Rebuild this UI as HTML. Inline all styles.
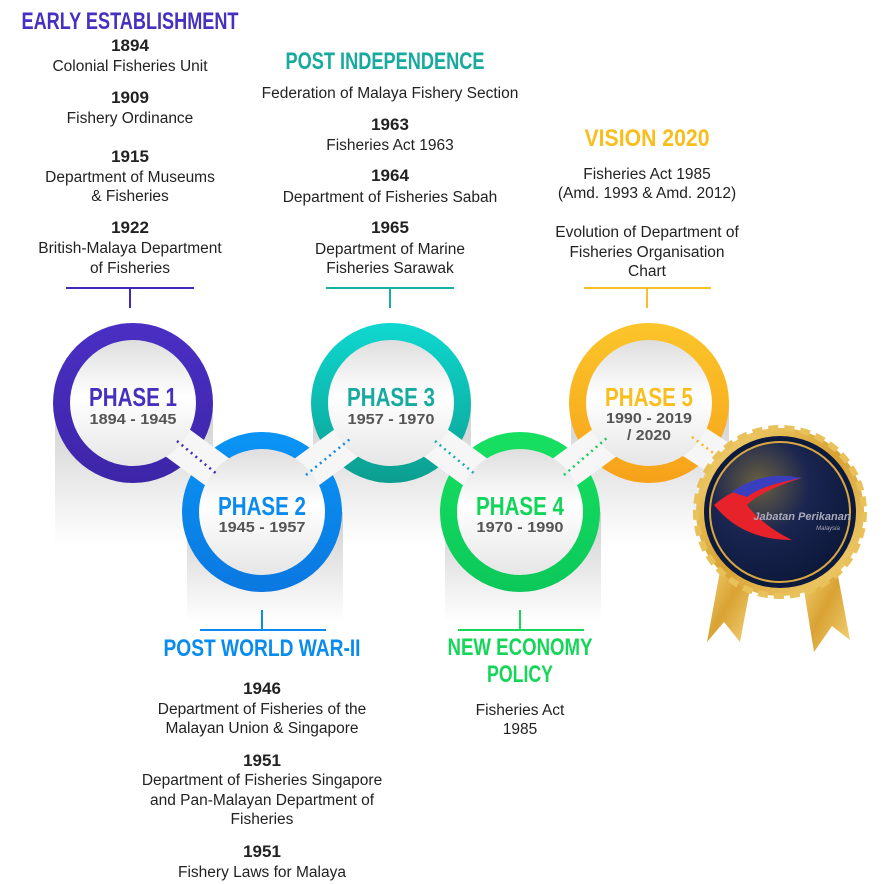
<!DOCTYPE html>
<html><head><meta charset="utf-8"><style>
html,body{margin:0;padding:0;background:#fff;}
svg{display:block;}
.h{font-family:"Liberation Sans Narrow","Liberation Sans",sans-serif;font-weight:bold;text-anchor:middle;font-size:24px;}
.y{font-family:"Liberation Sans Narrow","Liberation Sans",sans-serif;font-weight:bold;text-anchor:middle;font-size:17px;fill:#222;}
.t{font-family:"Liberation Sans",sans-serif;text-anchor:middle;font-size:15.5px;fill:#222;}
.p{font-family:"Liberation Sans Narrow","Liberation Sans",sans-serif;font-weight:bold;text-anchor:middle;font-size:26px;}
.d{font-family:"Liberation Sans Narrow","Liberation Sans",sans-serif;font-weight:bold;text-anchor:middle;font-size:15px;fill:#555;}
</style></head><body>
<svg width="895" height="884" viewBox="0 0 895 884" xmlns="http://www.w3.org/2000/svg">
<defs>
<linearGradient id="sh" x1="0" y1="0" x2="0" y2="1"><stop offset="0" stop-color="#cfcfcf"/><stop offset="1" stop-color="#fff"/></linearGradient>
<linearGradient id="in" x1="0" y1="0" x2="0" y2="1"><stop offset="0" stop-color="#dedede"/><stop offset="0.45" stop-color="#fff"/><stop offset="1" stop-color="#e6e6e6"/></linearGradient>
<linearGradient id="g1" x1="0" y1="0" x2="0" y2="1"><stop offset="0" stop-color="#4a2fc4"/><stop offset="1" stop-color="#3d25a8"/></linearGradient>
<linearGradient id="g2" x1="0" y1="0" x2="0" y2="1"><stop offset="0" stop-color="#0a94f5"/><stop offset="1" stop-color="#0a78e0"/></linearGradient>
<linearGradient id="g3" x1="0" y1="0" x2="0" y2="1"><stop offset="0" stop-color="#0fd8d0"/><stop offset="1" stop-color="#0c9e90"/></linearGradient>
<linearGradient id="g4" x1="0" y1="0" x2="0" y2="1"><stop offset="0" stop-color="#16e060"/><stop offset="1" stop-color="#0cc85a"/></linearGradient>
<linearGradient id="g5" x1="0" y1="0" x2="0" y2="1"><stop offset="0" stop-color="#fbc52a"/><stop offset="1" stop-color="#f7a21a"/></linearGradient>
<linearGradient id="gold" x1="0" y1="0" x2="1" y2="1"><stop offset="0" stop-color="#f5d77a"/><stop offset="0.5" stop-color="#d9a233"/><stop offset="1" stop-color="#f3d47a"/></linearGradient>
<radialGradient id="navy" cx="0.35" cy="0.3" r="0.8"><stop offset="0" stop-color="#6b6040"/><stop offset="0.45" stop-color="#1a2550"/><stop offset="1" stop-color="#0a1638"/></radialGradient>
</defs>

<rect x="55" y="405" width="158" height="140" fill="url(#sh)"/>
<rect x="313" y="405" width="158" height="140" fill="url(#sh)"/>
<rect x="571" y="405" width="158" height="140" fill="url(#sh)"/>
<rect x="187" y="512" width="156" height="110" fill="url(#sh)"/>
<rect x="445" y="512" width="156" height="110" fill="url(#sh)"/>

<circle cx="133" cy="403" r="80" fill="url(#g1)"/>
<circle cx="262" cy="512" r="80" fill="url(#g2)"/>
<circle cx="391" cy="403" r="80" fill="url(#g3)"/>
<circle cx="520" cy="512" r="80" fill="url(#g4)"/>
<circle cx="649" cy="403" r="80" fill="url(#g5)"/>

<g stroke="#f6f6f6" stroke-width="36" stroke-linecap="butt">
<line x1="160" y1="430" x2="235" y2="485"/>
<line x1="289" y1="485" x2="364" y2="430"/>
<line x1="418" y1="430" x2="493" y2="485"/>
<line x1="547" y1="485" x2="622" y2="430"/>
<line x1="676" y1="430" x2="730" y2="465"/>
</g>

<circle cx="133" cy="403" r="63" fill="url(#in)"/>
<circle cx="262" cy="512" r="63" fill="url(#in)"/>
<circle cx="391" cy="403" r="63" fill="url(#in)"/>
<circle cx="520" cy="512" r="63" fill="url(#in)"/>
<circle cx="649" cy="403" r="63" fill="url(#in)"/>

<g stroke-width="2.5" stroke-dasharray="2 4">
<line x1="177" y1="441" x2="218" y2="475" stroke="#3d2ab8"/>
<line x1="306" y1="475" x2="350" y2="439" stroke="#0a8bef"/>
<line x1="435" y1="441" x2="476" y2="475" stroke="#14b0a4"/>
<line x1="564" y1="475" x2="608" y2="437" stroke="#16cc5a"/>
<line x1="692" y1="437" x2="720" y2="458" stroke="#f5b51f"/>
</g>

<text class="p" x="133" y="406" fill="#4530c0" textLength="88" lengthAdjust="spacingAndGlyphs">PHASE 1</text>
<text class="d" x="133" y="424" textLength="87" lengthAdjust="spacingAndGlyphs">1894 - 1945</text>
<text class="p" x="262" y="515" fill="#0a8bef" textLength="88" lengthAdjust="spacingAndGlyphs">PHASE 2</text>
<text class="d" x="262" y="532" textLength="87" lengthAdjust="spacingAndGlyphs">1945 - 1957</text>
<text class="p" x="391" y="406" fill="#17aa9e" textLength="88" lengthAdjust="spacingAndGlyphs">PHASE 3</text>
<text class="d" x="391" y="424" textLength="87" lengthAdjust="spacingAndGlyphs">1957 - 1970</text>
<text class="p" x="520" y="515" fill="#12d65a" textLength="88" lengthAdjust="spacingAndGlyphs">PHASE 4</text>
<text class="d" x="520" y="532" textLength="87" lengthAdjust="spacingAndGlyphs">1970 - 1990</text>
<text class="p" x="649" y="406" fill="#f7be1e" textLength="88" lengthAdjust="spacingAndGlyphs">PHASE 5</text>
<text class="d" x="649" y="423" textLength="86" lengthAdjust="spacingAndGlyphs">1990 - 2019</text>
<text class="d" x="649" y="440" textLength="44" lengthAdjust="spacingAndGlyphs">/ 2020</text>

<polygon points="722,560 752,578 740,642 724,622 707,642" fill="url(#gold)"/>
<polygon points="802,578 835,560 850,640 832,626 814,652" fill="url(#gold)"/>
<circle cx="780" cy="512" r="84" fill="url(#gold)" stroke="#e9c15a" stroke-width="6" stroke-dasharray="10 6"/>
<circle cx="780" cy="512" r="76" fill="#0c1a3e"/>
<circle cx="780" cy="512" r="70" fill="url(#navy)" stroke="#d9a640" stroke-width="2"/>
<path d="M714,505 Q742,480 802,478 Q762,490 747,505 Q762,525 792,540 Q742,540 714,505Z" fill="#e8222a"/>
<path d="M732,492 Q762,470 802,478 Q762,485 747,497Z" fill="#3a3fc0"/>
<text x="802" y="520" font-family="Liberation Sans Narrow, Liberation Sans, sans-serif" font-style="italic" font-weight="bold" font-size="11" fill="#aab" text-anchor="middle">Jabatan Perikanan</text>
<text x="828" y="530" font-family="Liberation Sans, sans-serif" font-style="italic" font-size="6" fill="#aab" text-anchor="middle">Malaysia</text>

<g stroke-width="2">
<path d="M66,288H194M130,288V308" stroke="#3d2ab8" fill="none"/>
<path d="M326,288H454M390,288V308" stroke="#14b0a4" fill="none"/>
<path d="M584,288H711M647,288V308" stroke="#f5c02a" fill="none"/>
<path d="M200,630H326M262,630V610" stroke="#0a8bef" fill="none"/>
<path d="M458,630H584M520,630V610" stroke="#16d65a" fill="none"/>
</g>

<text class="h" x="130" y="29" fill="#4530c0" textLength="217" lengthAdjust="spacingAndGlyphs">EARLY ESTABLISHMENT</text>
<text class="y" x="130" y="51">1894</text><text class="t" x="130" y="71">Colonial Fisheries Unit</text>
<text class="y" x="130" y="103">1909</text><text class="t" x="130" y="123">Fishery Ordinance</text>
<text class="y" x="130" y="162">1915</text><text class="t" x="130" y="182">Department of Museums</text><text class="t" x="130" y="201">&amp; Fisheries</text>
<text class="y" x="130" y="233">1922</text><text class="t" x="130" y="253">British-Malaya Department</text><text class="t" x="130" y="273">of Fisheries</text>

<text class="h" x="385" y="69" fill="#17aa9e" textLength="199" lengthAdjust="spacingAndGlyphs">POST INDEPENDENCE</text>
<text class="t" x="390" y="98">Federation of Malaya Fishery Section</text>
<text class="y" x="390" y="130">1963</text><text class="t" x="390" y="150">Fisheries Act 1963</text>
<text class="y" x="390" y="181">1964</text><text class="t" x="390" y="202">Department of Fisheries Sabah</text>
<text class="y" x="390" y="233">1965</text><text class="t" x="390" y="254">Department of Marine</text><text class="t" x="390" y="273">Fisheries Sarawak</text>

<text class="h" x="647" y="146" fill="#f7be1e" textLength="125" lengthAdjust="spacingAndGlyphs">VISION 2020</text>
<text class="t" x="647" y="179">Fisheries Act 1985</text><text class="t" x="647" y="198">(Amd. 1993 &amp; Amd. 2012)</text>
<text class="t" x="647" y="237">Evolution of Department of</text><text class="t" x="647" y="257">Fisheries Organisation</text><text class="t" x="647" y="276">Chart</text>

<text class="h" x="262" y="656" fill="#0a8bef" textLength="197" lengthAdjust="spacingAndGlyphs">POST WORLD WAR-II</text>
<text class="y" x="262" y="694">1946</text><text class="t" x="262" y="714">Department of Fisheries of the</text><text class="t" x="262" y="733">Malayan Union &amp; Singapore</text>
<text class="y" x="262" y="766">1951</text><text class="t" x="262" y="785">Department of Fisheries Singapore</text><text class="t" x="262" y="805">and Pan-Malayan Department of</text><text class="t" x="262" y="824">Fisheries</text>
<text class="y" x="262" y="857">1951</text><text class="t" x="262" y="877">Fishery Laws for Malaya</text>

<text class="h" x="520" y="655" fill="#16d65a" textLength="145" lengthAdjust="spacingAndGlyphs">NEW ECONOMY</text>
<text class="h" x="520" y="682" fill="#16d65a" textLength="66" lengthAdjust="spacingAndGlyphs">POLICY</text>
<text class="t" x="520" y="715">Fisheries Act</text><text class="t" x="520" y="734">1985</text>
</svg>
</body></html>
